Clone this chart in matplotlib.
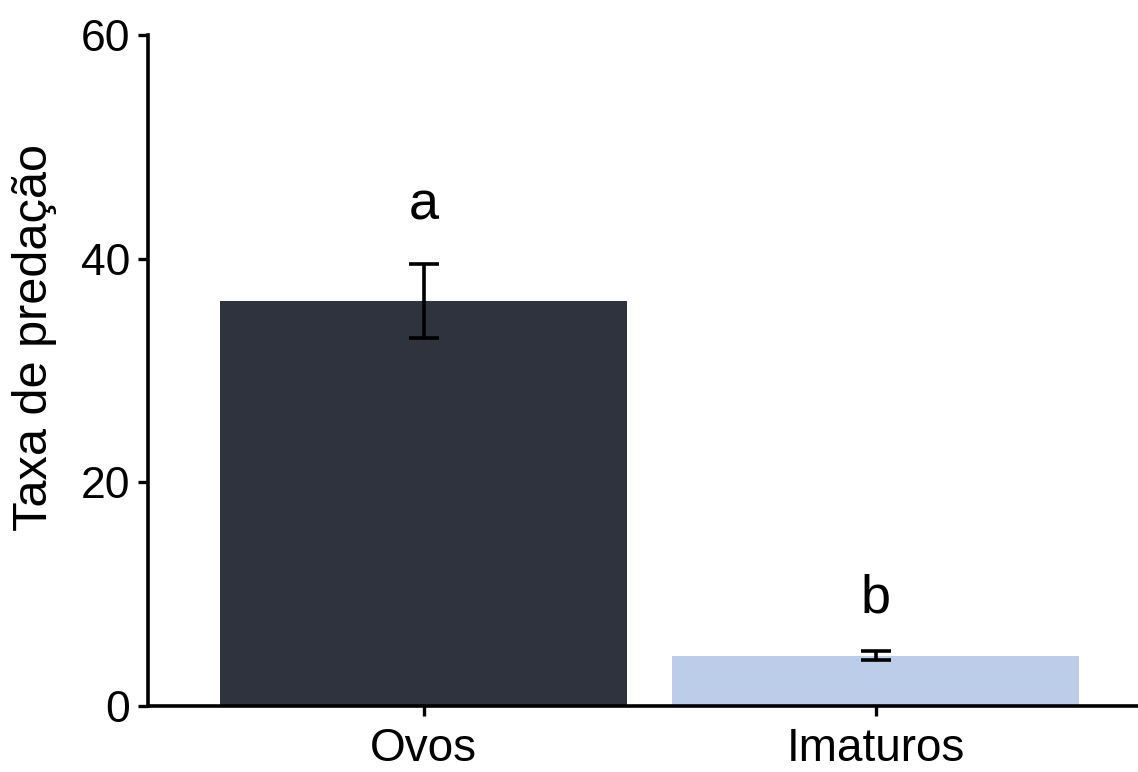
import matplotlib.pyplot as plt

plt.rcParams['font.family'] = ['Liberation Sans', 'DejaVu Sans']

categories = ['Ovos', 'Imaturos']
values = [36.2, 4.5]
errors = [3.3, 0.4]
letters = ['a', 'b']
letter_y = [44.8, 9.6]
colors = ['#2e333d', '#bccde9']

fig = plt.figure(figsize=(11.38, 7.72), dpi=100)
ax = fig.add_axes([0.130, 0.0855, 0.870, 0.869])

x = range(len(categories))
ax.bar(x, values, width=0.9, color=colors, zorder=1)
ax.errorbar(x, values, yerr=errors, fmt='none', ecolor='black',
            elinewidth=2.6, capsize=11, capthick=2.6, zorder=2)
for xi, lab, ly in zip(x, letters, letter_y):
    ax.text(xi, ly, lab, ha='center', va='center', fontsize=39)

ax.set_xlim(-0.61, 1.58)
ax.set_ylim(0, 60)
ax.set_yticks([0, 20, 40, 60])
ax.set_xticks(list(x))
ax.set_xticklabels(categories)
ax.set_ylabel('Taxa de predação', fontsize=35)
ax.yaxis.set_label_coords(-0.092, 0.55)
ax.tick_params(axis='both', width=2.4, length=7, direction='out')
ax.tick_params(axis='x', labelsize=33, pad=8)
ax.tick_params(axis='y', labelsize=32, pad=6)

for s in ['top', 'right']:
    ax.spines[s].set_visible(False)
for s in ['left', 'bottom']:
    ax.spines[s].set_linewidth(2.6)

fig.savefig('out.png', dpi=100)
